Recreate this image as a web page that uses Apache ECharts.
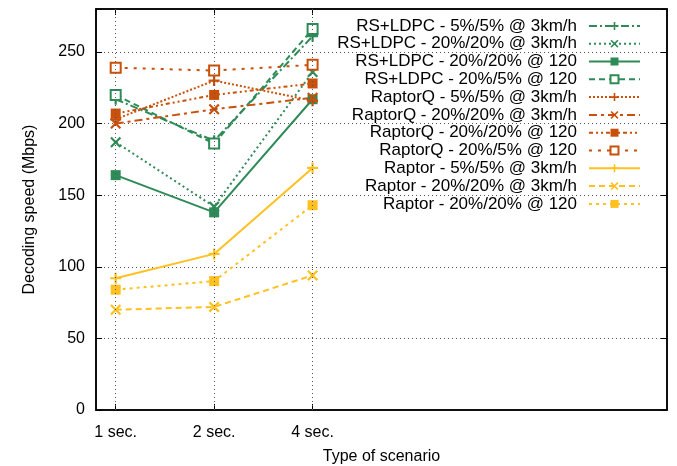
<!DOCTYPE html>
<html><head><meta charset="utf-8">
<script src="https://cdn.jsdelivr.net/npm/echarts@6/dist/echarts.min.js"></script>
<style>html,body{margin:0;padding:0;background:#fff}#c{width:677px;height:466px}</style>
</head><body><div id="c"></div>
<script>
const categories = ['1 sec.', '2 sec.', '4 sec.'];
const yTicks = [0, 50, 100, 150, 200, 250];
const seriesNames = [
  'RS+LDPC - 5%/5% @ 3km/h', 'RS+LDPC - 20%/20% @ 3km/h', 'RS+LDPC - 20%/20% @ 120', 'RS+LDPC - 20%/5% @ 120',
  'RaptorQ - 5%/5% @ 3km/h', 'RaptorQ - 20%/20% @ 3km/h', 'RaptorQ - 20%/20% @ 120', 'RaptorQ - 20%/5% @ 120',
  'Raptor - 5%/5% @ 3km/h', 'Raptor - 20%/20% @ 3km/h', 'Raptor - 20%/20% @ 120'
];
const rsldpc_5_5_3 = [217, 188, 261];
const rsldpc_20_20_3 = [187, 142, 236];
const rsldpc_20_20_120 = [164, 138, 217];
const rsldpc_20_5_120 = [220, 186, 266];
const raptorq_5_5_3 = [203, 230, 216];
const raptorq_20_20_3 = [200, 210, 218];
const raptorq_20_20_120 = [207, 220, 228];
const raptorq_20_5_120 = [239, 237, 241];
const raptor_5_5_3 = [92, 109, 169];
const raptor_20_20_3 = [70, 72, 94];
const raptor_20_20_120 = [84, 90, 143];

const values = [rsldpc_5_5_3, rsldpc_20_20_3, rsldpc_20_20_120, rsldpc_20_5_120,
  raptorq_5_5_3, raptorq_20_20_3, raptorq_20_20_120, raptorq_20_5_120,
  raptor_5_5_3, raptor_20_20_3, raptor_20_20_120];

const GREEN = '#2e8b57', ORANGE = '#c8500a', YELLOW = '#ffc020';
const PLUS = 'path://M4,0H6V4H10V6H6V10H4V6H0V4H4Z';
const XMARK = 'path://M1.4,0L5,3.6L8.6,0L10,1.4L6.4,5L10,8.6L8.6,10L5,6.4L1.4,10L0,8.6L3.6,5L0,1.4Z';
const styles = [
  {c: GREEN, d: [8, 3, 2, 3], s: PLUS},
  {c: GREEN, d: [2, 3], s: XMARK},
  {c: GREEN, d: 'solid', s: 'rect'},
  {c: GREEN, d: [6, 4], s: 'emptyRect'},
  {c: ORANGE, d: [2, 2], s: PLUS},
  {c: ORANGE, d: [8, 4, 3, 4], s: XMARK},
  {c: ORANGE, d: [4, 3, 2, 3, 2, 3], s: 'rect'},
  {c: ORANGE, d: [3, 6], s: 'emptyRect'},
  {c: YELLOW, d: 'solid', s: PLUS},
  {c: YELLOW, d: [6, 4], s: XMARK},
  {c: YELLOW, d: [3, 4], s: 'rect'}
];
const FONT = 'Liberation Sans';

const series = seriesNames.map((n, i) => ({
  name: n, type: 'line',
  data: values[i].map((v, j) => [j, v]),
  symbol: styles[i].s,
  symbolSize: (styles[i].s === 'rect' || styles[i].s === 'emptyRect') ? 10 : 11,
  showSymbol: true,
  itemStyle: {color: styles[i].c, borderColor: styles[i].c, borderWidth: styles[i].s === 'emptyRect' ? 2 : 0},
  lineStyle: {color: styles[i].c, width: 2, type: styles[i].d},
  color: styles[i].c,
  animation: false, z: 3
}));
series.push({
  type: 'line', data: [], silent: true,
  markLine: {
    silent: true, symbol: 'none', label: {show: false}, animation: false,
    lineStyle: {color: '#555', type: [1, 3], width: 1},
    data: categories.map((c, j) => ({xAxis: j}))
  }
});

const chart = echarts.init(document.getElementById('c'));
chart.setOption({
  backgroundColor: '#fff',
  animation: false,
  textStyle: {fontFamily: FONT},
  grid: {left: 96, right: 10, top: 9, bottom: 56, outerBoundsMode: 'none', containLabel: false, show: true, borderColor: '#000', borderWidth: 1.5},
  legend: {
    data: seriesNames, orient: 'vertical', align: 'right', right: 31, top: 12,
    itemWidth: 51, itemHeight: 10, itemGap: 0,
    textStyle: {fontFamily: FONT, fontSize: 17, color: '#000', lineHeight: 17.8, padding: [0, 7, 0, 0]},
    selectedMode: false
  },
  xAxis: [{
    type: 'value', min: -0.2, max: 5.6,
    name: 'Type of scenario', nameLocation: 'middle', nameGap: 39,
    nameTextStyle: {fontFamily: FONT, fontSize: 16, color: '#000'},
    axisLine: {show: true, onZero: false, lineStyle: {color: '#000', width: 1.5}},
    axisTick: {show: true, inside: true, length: 6, customValues: [0, 1, 2], lineStyle: {color: '#000'}},
    axisLabel: {customValues: [0, 1, 2], formatter: v => categories[Math.round(v)] || '', fontFamily: FONT, fontSize: 16, color: '#000', margin: 15},
    splitLine: {show: false}
  }, {
    type: 'value', min: -0.2, max: 5.6, position: 'top',
    axisLine: {show: true, onZero: false, lineStyle: {color: '#000', width: 1.5}},
    axisTick: {show: true, inside: true, length: 6, customValues: [0, 1, 2], lineStyle: {color: '#000'}},
    axisLabel: {show: false}, splitLine: {show: false}
  }],
  yAxis: [{
    type: 'value', min: 0, max: 280, interval: 50,
    name: 'Decoding speed (Mbps)', nameLocation: 'middle', nameGap: 58,
    nameTextStyle: {fontFamily: FONT, fontSize: 16, color: '#000'},
    axisLine: {show: true, onZero: false, lineStyle: {color: '#000', width: 1.5}},
    axisTick: {show: true, inside: true, length: 6, lineStyle: {color: '#000'}},
    axisLabel: {fontFamily: FONT, fontSize: 16, color: '#000', margin: 11, formatter: v => yTicks.indexOf(v) >= 0 ? String(v) : ''},
    splitLine: {show: true, lineStyle: {color: '#555', type: [1, 3], width: 1}}
  }, {
    type: 'value', min: 0, max: 280, interval: 50, position: 'right',
    axisLine: {show: true, onZero: false, lineStyle: {color: '#000', width: 1.5}},
    axisTick: {show: true, inside: true, length: 6, lineStyle: {color: '#000'}},
    axisLabel: {show: false}, splitLine: {show: false}
  }],
  series: series
});
</script></body></html>
